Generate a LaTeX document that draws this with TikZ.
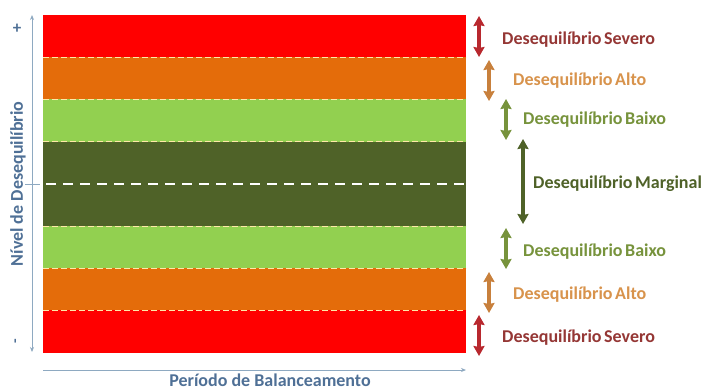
\documentclass[tikz,border=0pt]{standalone}
\usepackage{fontspec}
\setmainfont{Carlito}
\usetikzlibrary{arrows.meta}
\definecolor{cred}{HTML}{FF0000}
\definecolor{corange}{HTML}{E46C0A}
\definecolor{clgreen}{HTML}{92D050}
\definecolor{cdgreen}{HTML}{4F6228}
\definecolor{tsev}{HTML}{953735}
\definecolor{asev}{HTML}{B8282E}
\definecolor{talt}{HTML}{D8934C}
\definecolor{aalt}{HTML}{C8803C}
\definecolor{tbai}{HTML}{77933C}
\definecolor{tmar}{HTML}{4F6228}
\definecolor{axisc}{HTML}{8EA9C1}
\definecolor{axtext}{HTML}{4F7096}
\definecolor{sep}{HTML}{FFE9A8}
\tikzset{
  sepline/.style={draw=sep, line width=0.8pt, dash pattern=on 6pt off 3pt},
  midline/.style={draw=white, line width=1.6pt, dash pattern=on 10pt off 7pt},
  axis/.style={draw=axisc, line width=0.9pt},
  dbl/.style={line width=3.2pt, {Stealth[length=10pt,width=11pt,inset=1pt]}-{Stealth[length=10pt,width=11pt,inset=1pt]}},
  lbl/.style={font=\bfseries\fontsize{18}{20}\selectfont, anchor=base west, inner sep=0pt},
  axlbl/.style={font=\fontsize{18}{20}\selectfont\bfseries, text=axtext, inner sep=0pt}
}
\begin{document}
\begin{tikzpicture}[x=1pt,y=-1pt]
\useasboundingbox[fill=white] (0,0) rectangle (704,389);
% bands
\fill[cred] (43,15) rectangle (466,57.2);
\fill[corange] (43,57.2) rectangle (466,99.4);
\fill[clgreen] (43,99.4) rectangle (466,141.6);
\fill[cdgreen] (43,141.6) rectangle (466,226);
\fill[clgreen] (43,226) rectangle (466,268.2);
\fill[corange] (43,268.2) rectangle (466,310.4);
\fill[cred] (43,310.4) rectangle (466,352.6);
% separators
\foreach \y in {57.2,99.4,141.6,226,268.2,310.4} \draw[sepline] (43,\y) -- (466,\y);
\draw[midline] (46,184) -- (466,184);
% axes
\coordinate (vt) at (32,15);
\coordinate (vb) at (32,352);
\draw[axis,{Stealth[length=5pt,width=4pt]}-{Stealth[length=5pt,width=4pt]}] (vb) -- (vt);
\coordinate (tl) at (25,184);
\coordinate (tr) at (40,184);
\draw[axis] (tl) -- (tr);
\coordinate (hl) at (43,370);
\coordinate (hr) at (466,370);
\draw[axis,-{Stealth[length=5pt,width=4pt]}] (hl) -- (hr);
\node[font=\bfseries\fontsize{17}{17}\selectfont, text=axtext] (plus) at (17,29) {+};
\node[font=\bfseries\fontsize{15}{15}\selectfont, text=axtext, rotate=90] (minus) at (17,341) {-};
\node[axlbl, rotate=90] (ylab) at (18,184) {Nível de Desequilíbrio};
\node[axlbl, anchor=base] (xlab) at (270,386) {Período de Balanceamento};
% right arrows and labels
\coordinate (s1a) at (479,16); \coordinate (s1b) at (479,57);
\draw[dbl, asev] (s1a) -- (s1b);
\node[lbl, text=tsev] (s1) at (502,44) {Desequilíbrio\hspace{-1.5pt} Severo};
\coordinate (a1a) at (489,60); \coordinate (a1b) at (489,101);
\draw[dbl, aalt] (a1a) -- (a1b);
\node[lbl, text=talt] (a1) at (513,85) {Desequilíbrio\hspace{-1.5pt} Alto};
\coordinate (b1a) at (506,99); \coordinate (b1b) at (506,140);
\draw[dbl, tbai] (b1a) -- (b1b);
\node[lbl, text=tbai] (b1) at (523,124) {Desequilíbrio\hspace{-1.5pt} Baixo};
\coordinate (ma) at (523,139); \coordinate (mb) at (523,224);
\draw[dbl, tmar] (ma) -- (mb);
\node[lbl, text=tmar] (m) at (533,188) {Desequilíbrio\hspace{-1.5pt} Marginal};
\coordinate (b2a) at (506,228); \coordinate (b2b) at (506,269);
\draw[dbl, tbai] (b2a) -- (b2b);
\node[lbl, text=tbai] (b2) at (523,256) {Desequilíbrio\hspace{-1.5pt} Baixo};
\coordinate (a2a) at (489,272); \coordinate (a2b) at (489,313);
\draw[dbl, aalt] (a2a) -- (a2b);
\node[lbl, text=talt] (a2) at (513,299) {Desequilíbrio\hspace{-1.5pt} Alto};
\coordinate (s2a) at (479,315); \coordinate (s2b) at (479,356);
\draw[dbl, asev] (s2a) -- (s2b);
\node[lbl, text=tsev] (s2) at (502,342) {Desequilíbrio\hspace{-1.5pt} Severo};
\end{tikzpicture}
\end{document}
